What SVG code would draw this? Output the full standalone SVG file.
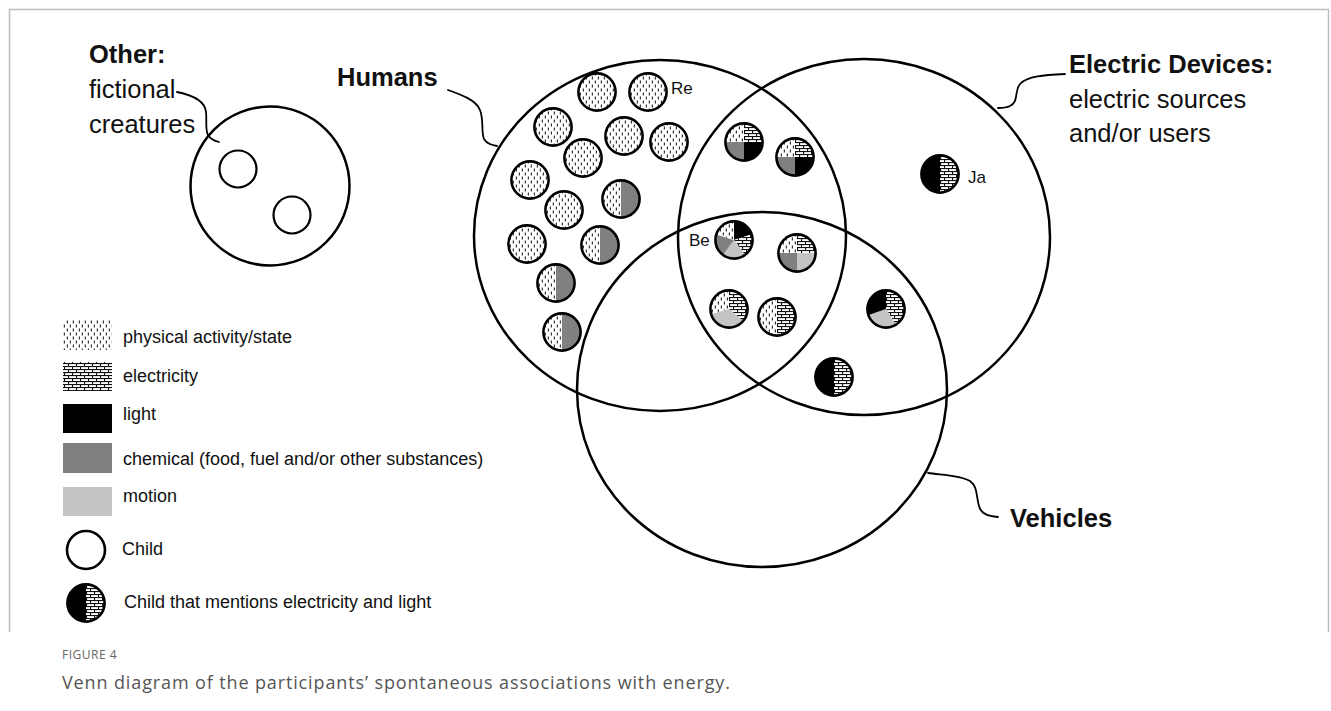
<svg xmlns="http://www.w3.org/2000/svg" xmlns:xlink="http://www.w3.org/1999/xlink" width="1331" height="711" viewBox="0 0 1331 711">
<style>
.set{fill:none;stroke:#000;stroke-width:2.5}
.lead{fill:none;stroke:#000;stroke-width:1.8;stroke-linecap:round}
.ring{fill:none;stroke:#000;stroke-width:2.6}
.lbl{font-family:"Liberation Sans",Arial,sans-serif;font-size:25.5px;fill:#111}
.b{font-weight:bold}
.leg{font-family:"Liberation Sans",Arial,sans-serif;font-size:18px;fill:#111}
.tag{font-family:"Liberation Sans",Arial,sans-serif;font-size:17px;fill:#111}
.cap1{font-family:"Open Sans","Noto Sans",sans-serif;font-size:12px;fill:#666;letter-spacing:0.5px}
.cap2{font-family:"Open Sans","Noto Sans",sans-serif;font-size:18px;fill:#555}
.ph{fill:url(#phys)}
.el{fill:url(#elec)}
.li{fill:#000}
.ch{fill:#808080}
.mo{fill:#c4c4c4}
</style>
<defs>
<pattern id="phys" width="6" height="8" patternUnits="userSpaceOnUse">
<rect width="6" height="8" fill="#fff"/>
<rect x="0.8" y="0.5" width="1.1" height="3" fill="#222"/>
<rect x="3.8" y="4.5" width="1.1" height="3" fill="#222"/>
</pattern>
<pattern id="elec" width="8" height="6" patternUnits="userSpaceOnUse">
<rect width="8" height="6" fill="#fff"/>
<rect x="0" y="0" width="8" height="1.1" fill="#111"/>
<rect x="0" y="3" width="8" height="1.1" fill="#111"/>
<rect x="0" y="0" width="1.1" height="3" fill="#111"/>
<rect x="4" y="3" width="1.1" height="3" fill="#111"/>
</pattern>
<g id="gP"><circle r="19" class="ph"/><circle r="18.6" class="ring"/></g>
<g id="gPC"><path class="ph" d="M0,-19 A19,19 0 0 0 0,19 Z"/><path class="ch" d="M0,-19 A19,19 0 0 1 0,19 Z"/><circle r="18.6" class="ring"/></g>
<g id="gPE"><path class="ph" d="M0,-19 A19,19 0 0 0 0,19 Z"/><path class="el" d="M0,-19 A19,19 0 0 1 0,19 Z"/><circle r="18.6" class="ring"/></g>
<g id="gLE"><path class="li" d="M0,-19 A19,19 0 0 0 0,19 Z"/><path class="el" d="M0,-19 A19,19 0 0 1 0,19 Z"/><circle r="18.6" class="ring"/></g>
<g id="gQ4"><path class="ph" d="M0,0 L-19,0 A19,19 0 0 1 0,-19 Z"/><path class="el" d="M0,0 L0,-19 A19,19 0 0 1 19,0 Z"/><path class="li" d="M0,0 L19,0 A19,19 0 0 1 0,19 Z"/><path class="ch" d="M0,0 L0,19 A19,19 0 0 1 -19,0 Z"/><circle r="18.6" class="ring"/></g>
<g id="gQ4b"><path class="ph" d="M0,0 L-19,0 A19,19 0 0 1 0,-19 Z"/><path class="el" d="M0,0 L0,-19 A19,19 0 0 1 19,0 Z"/><path class="mo" d="M0,0 L19,0 A19,19 0 0 1 0,19 Z"/><path class="ch" d="M0,0 L0,19 A19,19 0 0 1 -19,0 Z"/><circle r="18.6" class="ring"/></g>
<g id="gBe"><path class="li" d="M0,0 L0,-19 A19,19 0 0 1 18.07,-5.87 Z"/><path class="el" d="M0,0 L18.07,-5.87 A19,19 0 0 1 11.17,15.37 Z"/><path class="mo" d="M0,0 L11.17,15.37 A19,19 0 0 1 -11.17,15.37 Z"/><path class="ch" d="M0,0 L-11.17,15.37 A19,19 0 0 1 -18.07,-5.87 Z"/><path class="ph" d="M0,0 L-18.07,-5.87 A19,19 0 0 1 0,-19 Z"/><circle r="18.6" class="ring"/></g>
<g id="gT3a"><path class="el" d="M0,0 L0,-19 A19,19 0 0 1 14.55,12.21 Z"/><path class="mo" d="M0,0 L14.55,12.21 A19,19 0 0 1 -18.35,4.92 Z"/><path class="ph" d="M0,0 L-18.35,4.92 A19,19 0 0 1 0,-19 Z"/><circle r="18.6" class="ring"/></g>
<g id="gT3b"><path class="el" d="M0,0 L0,-19 A19,19 0 0 1 10.07,16.11 Z"/><path class="mo" d="M0,0 L10.07,16.11 A19,19 0 0 1 -17.96,6.19 Z"/><path class="li" d="M0,0 L-17.96,6.19 A19,19 0 0 1 0,-19 Z"/><circle r="18.6" class="ring"/></g>
</defs>

<rect x="0" y="0" width="1331" height="711" fill="#fff"/>
<path d="M9.5,632 V9.5 H1328.5 V632" fill="none" stroke="#bdbdbd" stroke-width="1.5"/>

<g id="connectors">
<path class="lead" d="M177,92 C192,95 205,101 206,112 C207,120 205,130 208,135 C211,140 215,141 219,142"/>
<path class="lead" d="M448,90 C462,95 476,100 480,110 C484,120 481,133 484,139 C487,144 492,145 497,146"/>
<path class="lead" d="M1065,74 C1045,75 1027,76 1020,84 C1014,91 1019,102 1010,106 C1006,108 1002,108 998,108"/>
<path class="lead" d="M998,517 C988,516 981,514 979,506 C976,496 978,487 970,481 C960,475 942,475 928,473"/>
</g>

<g id="other">
<circle class="set" cx="270" cy="186" r="79.5"/>
<circle cx="238" cy="169" r="18.5" fill="none" stroke="#000" stroke-width="2.2"/>
<circle cx="292" cy="215" r="18.5" fill="none" stroke="#000" stroke-width="2.2"/>
<text class="lbl b" x="89" y="63">Other:</text>
<text class="lbl" x="89" y="98">fictional</text>
<text class="lbl" x="89" y="133">creatures</text>
</g>

<g id="humans">
<ellipse class="set" cx="660" cy="235.5" rx="186" ry="175.5"/>
<text class="lbl b" x="337" y="86">Humans</text>
</g>

<g id="electric-devices">
<ellipse class="set" cx="864" cy="237" rx="186" ry="178"/>
<text class="lbl b" x="1069" y="73">Electric Devices:</text>
<text class="lbl" x="1069" y="108">electric sources</text>
<text class="lbl" x="1069" y="142">and/or users</text>
</g>

<g id="vehicles">
<ellipse class="set" cx="762" cy="389.5" rx="185" ry="177.5"/>
<text class="lbl b" x="1010" y="527">Vehicles</text>
</g>

<g id="children">
<use href="#gP" x="597" y="92"/>
<use href="#gP" x="648" y="92"/>
<use href="#gP" x="553" y="127"/>
<use href="#gP" x="624" y="136"/>
<use href="#gP" x="669" y="142"/>
<use href="#gP" x="583" y="158"/>
<use href="#gP" x="530" y="180"/>
<use href="#gP" x="564" y="210"/>
<use href="#gP" x="527" y="244"/>
<use href="#gPC" x="621" y="199"/>
<use href="#gPC" x="600" y="245"/>
<use href="#gPC" x="556" y="283"/>
<use href="#gPC" x="562" y="332"/>
<use href="#gQ4" x="744" y="142"/>
<use href="#gQ4" x="795" y="157"/>
<use href="#gBe" x="734" y="240"/>
<use href="#gQ4b" x="797" y="253"/>
<use href="#gT3a" x="729" y="309"/>
<use href="#gPE" x="777" y="317"/>
<use href="#gT3b" x="886" y="309"/>
<use href="#gLE" x="834" y="377"/>
<use href="#gLE" x="940" y="174"/>
<text class="tag" x="671" y="94">Re</text>
<text class="tag" x="689" y="246">Be</text>
<text class="tag" x="968" y="183">Ja</text>
</g>

<g id="legend">
<rect x="63" y="320" width="49" height="30" class="ph"/>
<text class="leg" x="123" y="343">physical activity/state</text>
<rect x="63" y="362" width="49" height="29" class="el"/>
<text class="leg" x="123" y="382">electricity</text>
<rect x="63" y="404" width="49" height="29" class="li"/>
<text class="leg" x="123" y="420">light</text>
<rect x="63" y="443" width="49" height="30" class="ch"/>
<text class="leg" x="123" y="465">chemical (food, fuel and/or other substances)</text>
<rect x="63" y="487" width="49" height="29" class="mo"/>
<text class="leg" x="123" y="502">motion</text>
<circle cx="86" cy="550" r="19" fill="none" stroke="#000" stroke-width="2.6"/>
<text class="leg" x="122" y="555">Child</text>
<use href="#gLE" x="86" y="603"/>
<text class="leg" x="124" y="608">Child that mentions electricity and light</text>
</g>

<g id="caption">
<text class="cap1" x="62" y="659">FIGURE 4</text>
<text class="cap2" x="62" y="689" textLength="668" lengthAdjust="spacing">Venn diagram of the participants’ spontaneous associations with energy.</text>
</g>
</svg>
